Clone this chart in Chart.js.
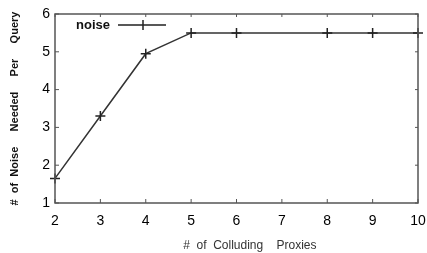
<!DOCTYPE html>
<html>
<head>
<meta charset="utf-8">
<script src="https://cdn.jsdelivr.net/npm/chart.js@4/dist/chart.umd.min.js"></script>
<style>
  html, body { margin: 0; padding: 0; background: #fff; }
  #wrap { width: 427px; height: 253px; }
</style>
</head>
<body>
<div id="wrap"><canvas id="lineChart" width="427" height="253"></canvas></div>
<script>
// data
var proxies = [2, 3, 4, 5, 6, 8, 9, 10];
var noiseCount = [1.65, 3.3, 4.95, 5.5, 5.5, 5.5, 5.5, 5.5];
var xTicks = [2, 3, 4, 5, 6, 7, 8, 9, 10];
var yTicks = [1, 2, 3, 4, 5, 6];

//inward tick marks, frame and the legend inside the plot
var framePlugin = {
    id: "frame",
    afterDraw: function (chart) {
        var ctx = chart.ctx;
        var a = chart.chartArea;
        var xs = chart.scales.x;
        var ys = chart.scales.y;
        ctx.save();
        ctx.strokeStyle = "#555";
        ctx.lineWidth = 1.5;
        ctx.strokeRect(a.left, a.top, a.right - a.left, a.bottom - a.top);
        ctx.lineWidth = 1;
        ctx.beginPath();
        xTicks.forEach(function (v) {
            var px = xs.getPixelForValue(v);
            ctx.moveTo(px, a.bottom); ctx.lineTo(px, a.bottom - 4);
            ctx.moveTo(px, a.top); ctx.lineTo(px, a.top + 3);
        });
        yTicks.forEach(function (v) {
            var py = ys.getPixelForValue(v);
            ctx.moveTo(a.left, py); ctx.lineTo(a.left + 4, py);
            ctx.moveTo(a.right, py); ctx.lineTo(a.right - 3, py);
        });
        ctx.stroke();

        //legend
        var ds = chart.data.datasets[0];
        ctx.fillStyle = "#111";
        ctx.font = "bold 13px 'Liberation Sans', Arial, sans-serif";
        ctx.textBaseline = "middle";
        ctx.textAlign = "left";
        ctx.fillText(ds.label, 76, 25);
        ctx.strokeStyle = "#222";
        ctx.lineWidth = 1.5;
        ctx.beginPath();
        ctx.moveTo(118, 25); ctx.lineTo(166, 25);
        ctx.moveTo(143, 20); ctx.lineTo(143, 30);
        ctx.stroke();
        ctx.restore();
    }
};

function initChart() {
    var ctx = document.getElementById("lineChart").getContext("2d");
    new Chart(ctx, {
        type: "line",
        data: {
            datasets: [{
                label: "noise",
                data: proxies.map(function (p, i) { return { x: p, y: noiseCount[i] }; }),
                borderColor: "#333",
                borderWidth: 1.5,
                pointStyle: "cross",
                pointRadius: 5,
                pointBorderWidth: 1.5,
                pointBorderColor: "#222",
                tension: 0,
                fill: false,
                clip: false
            }]
        },
        options: {
            responsive: false,
            animation: false,
            layout: { padding: { left: 8, right: 9, top: 14, bottom: 0 } },
            plugins: { legend: { display: false }, tooltip: { enabled: false } },
            scales: {
                x: {
                    type: "linear",
                    min: 2,
                    max: 10,
                    afterBuildTicks: function (s) { s.ticks = xTicks.map(function (v) { return { value: v }; }); },
                    afterFit: function (s) {
                        s.height = 50;
                        s.paddingLeft = 0;
                        s.paddingRight = 0;
                    },
                    grid: { display: false, drawTicks: false },
                    border: { display: false },
                    ticks: {
                        color: "#000",
                        padding: 10,
                        font: { size: 14, family: "'Liberation Sans', Arial, sans-serif" }
                    },
                    title: {
                        display: true,
                        text: "        #  of  Colluding    Proxies",
                        color: "#333",
                        font: { size: 12, family: "'Liberation Sans', Arial, sans-serif" },
                        padding: { top: 4, bottom: 0 }
                    }
                },
                y: {
                    min: 1,
                    max: 6,
                    afterBuildTicks: function (s) { s.ticks = yTicks.map(function (v) { return { value: v }; }); },
                    afterFit: function (s) {
                        s.width = 47;
                        s.paddingTop = 0;
                        s.paddingBottom = 0;
                    },
                    grid: { display: false, drawTicks: false },
                    border: { display: false },
                    ticks: {
                        color: "#000",
                        padding: 5,
                        font: { size: 14, family: "'Liberation Sans', Arial, sans-serif" }
                    },
                    title: {
                        display: true,
                        text: "#  of  Noise     Needed     Per     Query",
                        color: "#111",
                        font: { size: 11, weight: "bold", family: "'Liberation Sans', Arial, sans-serif" },
                        padding: { top: 0, bottom: 4 }
                    }
                }
            }
        },
        plugins: [framePlugin]
    });
}

initChart();
</script>
</body>
</html>
